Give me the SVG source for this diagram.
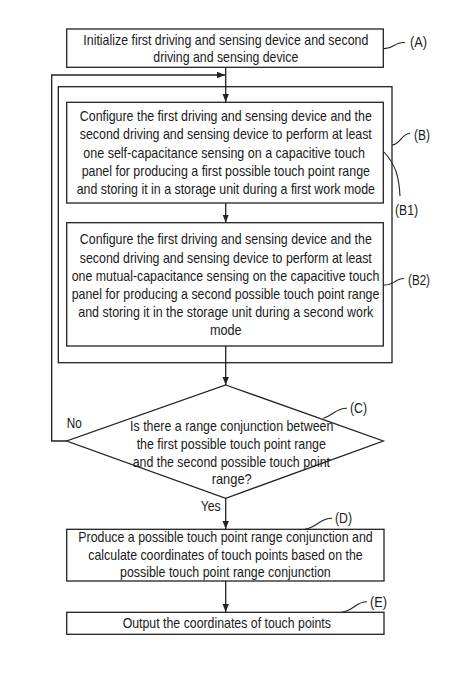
<svg xmlns="http://www.w3.org/2000/svg" width="474" height="683" viewBox="0 0 474 683">
<defs>
<style>
.box{fill:#fff;stroke:#222;stroke-width:1.3}
.ln{fill:none;stroke:#222;stroke-width:1.3}
.ld{fill:none;stroke:#222;stroke-width:1.1}
text{font-family:"Liberation Sans Narrow","Liberation Sans",Arial,sans-serif;font-size:15px;fill:#1a1a1a}
.lb{font-size:14px}
.c{text-anchor:middle}
</style>
<marker id="ah" viewBox="0 0 10 10" refX="10" refY="5" markerWidth="8" markerHeight="8" markerUnits="userSpaceOnUse" orient="auto">
<path d="M0,1 L10,5 L0,9 Z" fill="#222"/>
</marker>
</defs>
<rect width="474" height="683" fill="#fff"/>
<g id="connectors">
<path class="ln" d="M225.7,67.3 V102" marker-end="url(#ah)"/>
<path class="ln" d="M66.7,441 H51.7 V75 H225" marker-end="url(#ah)"/>
<path class="ln" d="M225.7,203 V222.5" marker-end="url(#ah)"/>
<path class="ln" d="M225.7,346 V385" marker-end="url(#ah)"/>
<path class="ln" d="M225.7,498.3 V529" marker-end="url(#ah)"/>
<path class="ln" d="M225.7,581 V612" marker-end="url(#ah)"/>
<text x="66.7" y="428" textLength="15" lengthAdjust="spacingAndGlyphs">No</text>
<text x="200.7" y="511" textLength="20" lengthAdjust="spacingAndGlyphs">Yes</text>
</g>
<g id="nodeA">
<rect class="box" x="66.7" y="29" width="316.6" height="38.3"/>
<text class="c" x="225.8" y="44.5" textLength="285" lengthAdjust="spacingAndGlyphs">Initialize first driving and sensing device and second</text>
<text class="c" x="225.8" y="62" textLength="145" lengthAdjust="spacingAndGlyphs">driving and sensing device</text>
<path class="ld" d="M383.3,48.5 C392,50 395,41.5 405,42.5"/>
<text class="lb" x="410" y="46.5" textLength="17" lengthAdjust="spacingAndGlyphs">(A)</text>
</g>
<g id="nodeB">
<rect class="box" x="58.3" y="86.7" width="333.7" height="276" style="fill:none"/>
<path class="ld" d="M392,145 C400,145 402,133 410,133.5"/>
<text class="lb" x="414" y="140" textLength="16" lengthAdjust="spacingAndGlyphs">(B)</text>
</g>
<g id="nodeB1">
<rect class="box" x="66.7" y="102.3" width="316.6" height="100.7"/>
<text class="c" x="225.8" y="121" textLength="292" lengthAdjust="spacingAndGlyphs">Configure the first driving and sensing device and the</text>
<text class="c" x="225.8" y="139.3" textLength="292" lengthAdjust="spacingAndGlyphs">second driving and sensing device to perform at least</text>
<text class="c" x="224.2" y="157.5" textLength="281.7" lengthAdjust="spacingAndGlyphs">one self-capacitance sensing on a capacitive touch</text>
<text class="c" x="225.8" y="175.6" textLength="288.3" lengthAdjust="spacingAndGlyphs">panel for producing a first possible touch point range</text>
<text class="c" x="225.8" y="193.5" textLength="298.3" lengthAdjust="spacingAndGlyphs">and storing it in a storage unit during a first work mode</text>
<path class="ld" d="M384,152 C396,165 399,177 400,196"/>
<text class="lb" x="395" y="215" textLength="23" lengthAdjust="spacingAndGlyphs">(B1)</text>
</g>
<g id="nodeB2">
<rect class="box" x="66.7" y="222.7" width="316.6" height="123.3"/>
<text class="c" x="225.8" y="244" textLength="292" lengthAdjust="spacingAndGlyphs">Configure the first driving and sensing device and the</text>
<text class="c" x="225.8" y="262.5" textLength="292" lengthAdjust="spacingAndGlyphs">second driving and sensing device to perform at least</text>
<text class="c" x="225.5" y="280.7" textLength="307.7" lengthAdjust="spacingAndGlyphs">one mutual-capacitance sensing on the capacitive touch</text>
<text class="c" x="225.5" y="299" textLength="307.7" lengthAdjust="spacingAndGlyphs">panel for producing a second possible touch point range</text>
<text class="c" x="225.8" y="317.3" textLength="295" lengthAdjust="spacingAndGlyphs">and storing it in the storage unit during a second work</text>
<text class="c" x="225.8" y="335" textLength="31.7" lengthAdjust="spacingAndGlyphs">mode</text>
<path class="ld" d="M383.3,285 C393,286 396,278 404,278.5"/>
<text class="lb" x="408" y="285" textLength="22" lengthAdjust="spacingAndGlyphs">(B2)</text>
</g>
<g id="nodeC">
<polygon class="box" points="225.7,385 383.3,441 225.7,498.3 66.7,441" style="fill:none"/>
<text class="c" x="231.7" y="431" textLength="203.3" lengthAdjust="spacingAndGlyphs">Is there a range conjunction between</text>
<text class="c" x="231.3" y="448.5" textLength="189.3" lengthAdjust="spacingAndGlyphs">the first possible touch point range</text>
<text class="c" x="231.3" y="466.7" textLength="197.3" lengthAdjust="spacingAndGlyphs">and the second possible touch point</text>
<text class="c" x="231.7" y="483.5" textLength="40" lengthAdjust="spacingAndGlyphs">range?</text>
<path class="ld" d="M323.3,418.3 C334,415 336,408 347,408.3"/>
<text class="lb" x="350" y="413" textLength="17" lengthAdjust="spacingAndGlyphs">(C)</text>
</g>
<g id="nodeD">
<rect class="box" x="66.7" y="529.3" width="317.3" height="51.7"/>
<text class="c" x="225.5" y="541.7" textLength="294.3" lengthAdjust="spacingAndGlyphs">Produce a possible touch point range conjunction and</text>
<text class="c" x="225.5" y="559.5" textLength="274.3" lengthAdjust="spacingAndGlyphs">calculate coordinates of touch points based on the</text>
<text class="c" x="225.4" y="577.3" textLength="210.7" lengthAdjust="spacingAndGlyphs">possible touch point range conjunction</text>
<path class="ld" d="M305,529.3 C318,527 320,518 332,518.3"/>
<text class="lb" x="335" y="523.3" textLength="17" lengthAdjust="spacingAndGlyphs">(D)</text>
</g>
<g id="nodeE">
<rect class="box" x="66.7" y="612.3" width="317.3" height="22"/>
<text class="c" x="226.8" y="627.7" textLength="208.3" lengthAdjust="spacingAndGlyphs">Output the coordinates of touch points</text>
<path class="ld" d="M341.7,612.3 C355,610 356,601.5 367,601.7"/>
<text class="lb" x="370" y="606.5" textLength="17" lengthAdjust="spacingAndGlyphs">(E)</text>
</g>
</svg>
